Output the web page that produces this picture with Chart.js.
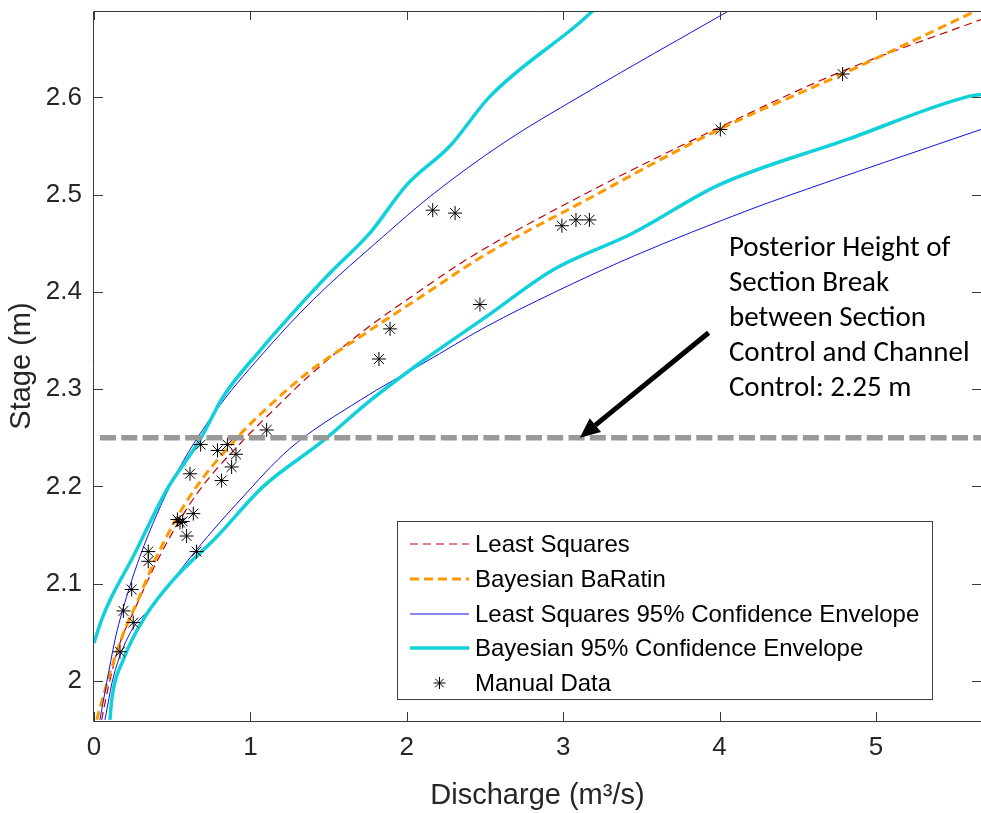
<!DOCTYPE html>
<html>
<head>
<meta charset="utf-8">
<script src="https://cdn.jsdelivr.net/npm/chart.js@4.4.0/dist/chart.umd.min.js"></script>
<style>
html,body{margin:0;padding:0;background:#ffffff;overflow:hidden}
#wrap{position:relative;width:981px;height:813px;overflow:hidden}
canvas{display:block}
</style>
</head>
<body>
<div id="wrap"><canvas id="c" width="989" height="813"></canvas></div>
<script>
// ---------- data ----------
const xTickValues = [0, 1, 2, 3, 4, 5];
const yTickValues = [2.0, 2.1, 2.2, 2.3, 2.4, 2.5, 2.6];

// Least Squares rating curve
const lsQ = [0.049, 0.092, 0.166, 0.25, 0.422, 0.656, 0.97, 1.151, 1.364, 1.705, 2.11, 2.42, 3.107, 3.997, 4.787, 5.672];
const lsH = [1.96, 1.994, 2.039, 2.07, 2.129, 2.192, 2.25, 2.279, 2.312, 2.3577, 2.404, 2.437, 2.498, 2.569, 2.627, 2.68];

// Bayesian BaRatin rating curve
const baQ = [0.017, 0.102, 0.188, 0.273, 0.401, 0.614, 0.915, 1.136, 1.364, 1.705, 2.11, 2.489, 3.107, 3.997, 4.787, 5.64];
const baH = [1.96, 2.008, 2.049, 2.08, 2.128, 2.19, 2.25, 2.285, 2.3166, 2.3542, 2.397, 2.437, 2.491, 2.567, 2.624, 2.689];

// Least Squares 95% envelope (upper / lower)
const lsUpQ = [0.038, 0.081, 0.134, 0.166, 0.294, 0.507, 0.767, 1.066, 1.402, 1.85, 2.148, 2.617, 3.107, 4.06];
const lsUpH = [1.96, 1.998, 2.042, 2.063, 2.128, 2.207, 2.275, 2.334, 2.392, 2.457, 2.498, 2.553, 2.601, 2.689];
const lsLoQ = [0.07, 0.124, 0.23, 0.38, 0.656, 0.934, 1.253, 1.705, 2.11, 2.511, 2.937, 3.448, 4.194, 4.423, 5.672];
const lsLoH = [1.96, 2.004, 2.049, 2.078, 2.135, 2.186, 2.239, 2.289, 2.327, 2.3645, 2.399, 2.4366, 2.4846, 2.498, 2.567];

// Bayesian 95% envelope (upper / lower)
const baUpQ = [0, 0.049, 0.102, 0.251, 0.465, 0.678, 0.827, 1.066, 1.349, 1.509, 1.765, 2.0, 2.276, 2.532, 3.107, 3.19];
const baUpH = [2.039, 2.063, 2.083, 2.128, 2.1965, 2.248, 2.2925, 2.3405, 2.392, 2.4194, 2.4606, 2.51, 2.55, 2.601, 2.677, 2.689];
const baLoQ = [0.102, 0.113, 0.188, 0.326, 0.507, 0.784, 1.083, 1.466, 1.748, 2.11, 2.511, 2.937, 3.448, 3.997, 4.822, 5.593, 5.672];
const baLoH = [1.96, 1.98, 2.022, 2.066, 2.104, 2.148, 2.2, 2.247, 2.286, 2.33, 2.3748, 2.4228, 2.4606, 2.51, 2.557, 2.601, 2.603];

// Manual gaugings
const manualQ = [0.166, 0.188, 0.241, 0.251, 0.347, 0.347, 0.533, 0.55, 0.567, 0.635, 0.592, 0.656, 0.614, 0.682, 0.79, 0.853, 0.908, 0.88, 0.816, 1.104, 1.822, 1.893, 2.468, 2.166, 2.309, 2.992, 3.082, 3.168, 4.005, 4.787];
const manualH = [2.03, 2.072, 2.094, 2.06, 2.133, 2.123, 2.166, 2.163, 2.164, 2.172, 2.149, 2.133, 2.213, 2.243, 2.237, 2.243, 2.233, 2.22, 2.206, 2.258, 2.331, 2.362, 2.387, 2.484, 2.481, 2.468, 2.474, 2.474, 2.567, 2.624];

// Section break
const breakStage = 2.25;
const breakQ = [0.038, 5.672];

const legendLabels = ["Least Squares", "Bayesian BaRatin", "Least Squares 95% Confidence Envelope", "Bayesian 95% Confidence Envelope", "Manual Data"];
const annotationLines = ["Posterior Height of", "Section Break", "between Section", "Control and Channel", "Control: 2.25 m"];
const xTitle = "Discharge (m\u00B3/s)";
const yTitle = "Stage (m)";

// ---------- styles ----------
const AXIS_COLOR = '#3a3a3a';
const TEXT_COLOR = '#262626';
const RED = '#c00000';
const ORANGE = '#ff9900';
const BLUE = '#1010e6';
const CYAN = '#10d0da';
const SANS = '"Liberation Sans", Arial, Helvetica, sans-serif';

const pts = (Q, H) => Q.map((q, i) => ({x: q, y: H[i]}));

const lineDs = (label, Q, H, color, width, dash, order) => ({
  label, data: pts(Q, H), showLine: true, borderColor: color, borderWidth: width,
  borderDash: dash, pointRadius: 0, pointHoverRadius: 0, fill: false,
  cubicInterpolationMode: 'monotone', order, clip: 0
});

const datasets = [
  lineDs(legendLabels[0], lsQ, lsH, RED, 1.2, [8, 5], 6),
  lineDs(legendLabels[1], baQ, baH, ORANGE, 3, [9, 5], 5),
  lineDs(legendLabels[2], lsUpQ, lsUpH, BLUE, 1, [], 4),
  lineDs('_lsLo', lsLoQ, lsLoH, BLUE, 1, [], 4),
  lineDs(legendLabels[3], baUpQ, baUpH, CYAN, 3.5, [], 3),
  lineDs('_baLo', baLoQ, baLoH, CYAN, 3.5, [], 3),
  {
    label: legendLabels[4], data: pts(manualQ, manualH), showLine: false,
    pointStyle: 'star', pointRadius: 7, pointBorderColor: '#000', pointBackgroundColor: 'rgba(0,0,0,0)',
    pointBorderWidth: 1, order: 2, clip: 0
  },
  {
    label: '_break', data: breakQ.map(q => ({x: q, y: breakStage})), showLine: true,
    borderColor: '#999999', borderWidth: 5.5, borderDash: [16, 5.3], pointRadius: 0, order: 1, clip: 0
  }
];

// ---------- plugins ----------
const framePlugin = {
  id: 'frameTicks',
  afterDraw(chart) {
    const {ctx, chartArea: a, scales: {x, y}} = chart;
    ctx.save();
    ctx.strokeStyle = AXIS_COLOR;
    ctx.lineWidth = 1;
    ctx.setLineDash([]);
    ctx.beginPath();
    ctx.moveTo(a.left - 0.5, a.bottom + 0.5);
    ctx.lineTo(a.left - 0.5, a.top + 0.5);
    ctx.lineTo(a.right + 0.5, a.top + 0.5);
    ctx.moveTo(a.left - 0.5, a.bottom + 0.5);
    ctx.lineTo(a.right + 0.5, a.bottom + 0.5);
    const tl = 9;
    x.ticks.forEach(t => {
      const px = Math.round(x.getPixelForValue(t.value)) + 0.5;
      ctx.moveTo(px, a.bottom); ctx.lineTo(px, a.bottom - tl);
      ctx.moveTo(px, a.top); ctx.lineTo(px, a.top + tl);
    });
    y.ticks.forEach(t => {
      const py = Math.round(y.getPixelForValue(t.value)) + 0.5;
      ctx.moveTo(a.left, py); ctx.lineTo(a.left + tl, py);
      ctx.moveTo(a.right, py); ctx.lineTo(a.right - tl, py);
    });
    ctx.stroke();
    ctx.restore();
  }
};

function drawStar(ctx, cx, cy, r) {
  ctx.beginPath();
  ctx.moveTo(cx - r, cy); ctx.lineTo(cx + r, cy);
  ctx.moveTo(cx, cy - r); ctx.lineTo(cx, cy + r);
  const d = r * Math.SQRT1_2;
  ctx.moveTo(cx - d, cy - d); ctx.lineTo(cx + d, cy + d);
  ctx.moveTo(cx - d, cy + d); ctx.lineTo(cx + d, cy - d);
  ctx.stroke();
}

const legendPlugin = {
  id: 'boxLegend',
  afterDraw(chart, args, opts) {
    const {ctx} = chart;
    const b = opts.box;
    ctx.save();
    ctx.fillStyle = '#ffffff';
    ctx.fillRect(b.left, b.top, b.right - b.left, b.bottom - b.top);
    ctx.strokeStyle = '#404040';
    ctx.lineWidth = 1;
    ctx.setLineDash([]);
    ctx.strokeRect(b.left + 0.5, b.top + 0.5, b.right - b.left, b.bottom - b.top);
    const entries = [0, 1, 2, 4, 6];
    ctx.font = opts.font;
    ctx.textBaseline = 'middle';
    ctx.textAlign = 'left';
    entries.forEach((di, row) => {
      const ds = chart.data.datasets[di];
      const yy = b.rowY[row];
      if (ds.showLine) {
        ctx.save();
        ctx.strokeStyle = ds.borderColor;
        ctx.lineWidth = ds.borderWidth;
        ctx.setLineDash(ds.borderDash || []);
        ctx.beginPath();
        ctx.moveTo(b.sampleX0, yy); ctx.lineTo(b.sampleX1, yy);
        ctx.stroke();
        ctx.restore();
      } else {
        ctx.save();
        ctx.strokeStyle = '#000';
        ctx.lineWidth = 1;
        drawStar(ctx, (b.sampleX0 + b.sampleX1) / 2, yy, 6);
        ctx.restore();
      }
      ctx.fillStyle = '#000';
      ctx.fillText(ds.label, b.textX, yy + 1);
    });
    ctx.restore();
  }
};

const notePlugin = {
  id: 'note',
  afterDraw(chart, args, opts) {
    const {ctx, scales: {x, y}} = chart;
    ctx.save();
    const x0 = x.getPixelForValue(opts.arrowFrom[0]), y0 = y.getPixelForValue(opts.arrowFrom[1]);
    const x1 = x.getPixelForValue(opts.arrowTo[0]), y1 = y.getPixelForValue(opts.arrowTo[1]);
    const ang = Math.atan2(y1 - y0, x1 - x0);
    const headL = 20, headW = 9;
    const bx = x1 - headL * Math.cos(ang), by = y1 - headL * Math.sin(ang);
    ctx.strokeStyle = '#000';
    ctx.fillStyle = '#000';
    ctx.lineWidth = 5;
    ctx.setLineDash([]);
    ctx.beginPath();
    ctx.moveTo(x0, y0); ctx.lineTo(bx, by); ctx.stroke();
    ctx.beginPath();
    ctx.moveTo(x1, y1);
    ctx.lineTo(bx + headW * Math.sin(ang), by - headW * Math.cos(ang));
    ctx.lineTo(bx - headW * Math.sin(ang), by + headW * Math.cos(ang));
    ctx.closePath();
    ctx.fill();
    const tx = x.getPixelForValue(opts.textAt[0]), ty = y.getPixelForValue(opts.textAt[1]);
    ctx.font = opts.font;
    ctx.textBaseline = 'middle';
    ctx.textAlign = 'left';
    annotationLines.forEach((s, i) => ctx.fillText(s, tx, ty + i * opts.lineGap));
    ctx.restore();
  }
};

new Chart(document.getElementById('c'), {
  type: 'scatter',
  data: {datasets},
  plugins: [framePlugin, legendPlugin, notePlugin],
  options: {
    responsive: false,
    animation: false,
    devicePixelRatio: 1,
    layout: {padding: {top: 11, right: 0, left: 0, bottom: 0}},
    plugins: {
      legend: {display: false},
      tooltip: {enabled: false},
      boxLegend: {
        box: {left: 397, top: 521, right: 932, bottom: 699, sampleX0: 410, sampleX1: 469, textX: 475, rowY: [544, 579, 614, 648, 683]},
        font: '24px ' + SANS
      },
      note: {
        arrowFrom: [3.93, 2.358], arrowTo: [3.107, breakStage],
        textAt: [4.06, 2.444], lineGap: 34.8,
        font: '29px Carlito, Lato, "Open Sans", sans-serif'
      }
    },
    scales: {
      x: {
        type: 'linear', min: 0, max: 5.672,
        afterFit: s => { s.height = 92; s.paddingLeft = 0; s.paddingRight = 0; },
        afterBuildTicks: s => { s.ticks = xTickValues.map(v => ({value: v})); },
        grid: {display: false, drawTicks: false},
        border: {display: false},
        ticks: {font: {size: 26, family: SANS}, color: TEXT_COLOR, padding: 11, maxRotation: 0, autoSkip: false,
          callback: v => String(v)},
        title: {display: true, text: xTitle, font: {size: 29, family: SANS}, color: TEXT_COLOR, padding: {top: 0, bottom: 0}}
      },
      y: {
        type: 'linear', min: 1.9588, max: 2.6888,
        afterFit: s => { s.width = 94; s.paddingTop = 0; s.paddingBottom = 0; },
        afterBuildTicks: s => { s.ticks = yTickValues.map(v => ({value: v})); },
        grid: {display: false, drawTicks: false},
        border: {display: false},
        ticks: {font: {size: 26, family: SANS}, color: TEXT_COLOR, padding: 12, autoSkip: false,
          callback: v => String(Number(v.toFixed(1)))},
        title: {display: true, text: yTitle, font: {size: 29, family: SANS}, color: TEXT_COLOR, padding: {top: 5, bottom: 0}}
      }
    }
  }
});
</script>
</body>
</html>
